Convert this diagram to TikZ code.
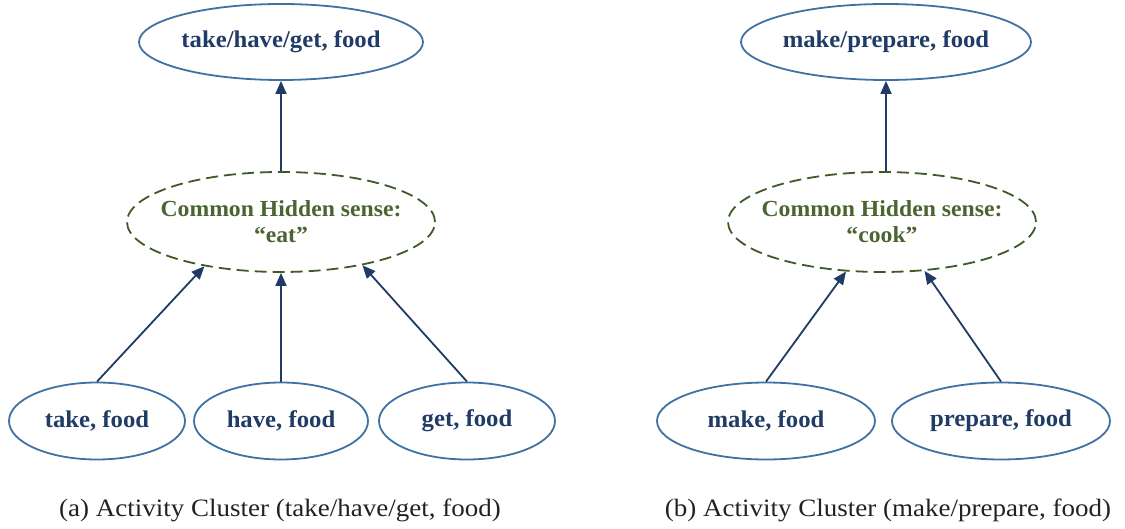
\documentclass[tikz,border=0pt]{standalone}
\usepackage{fontspec}
\setmainfont{Liberation Serif}
\newfontfamily\nodefont[FakeStretch=1.03,Ligatures=TeX]{Liberation Serif}
\newfontfamily\capfont[FakeStretch=1.08,Ligatures=TeX]{Liberation Serif}
\usetikzlibrary{shapes.geometric,arrows.meta}
\definecolor{navy}{HTML}{1F3B66}
\definecolor{ellblue}{HTML}{3F72A3}
\definecolor{dgreen}{HTML}{3E5A28}
\definecolor{tgreen}{HTML}{4A6530}
\definecolor{capgray}{HTML}{222222}
\tikzset{
  leaf/.style={ellipse,draw=ellblue,line width=1.8pt,inner xsep=-6pt,inner ysep=0pt,
    text=navy,font=\nodefont\fontsize{24}{28}\selectfont\bfseries},
  hidden/.style={ellipse,draw=dgreen,line width=1.8pt,dash pattern=on 12pt off 6pt,
    inner xsep=-20pt,inner ysep=-8pt,text=tgreen,align=center,
    font=\nodefont\fontsize{23}{26}\selectfont\bfseries},
  arr/.style={navy,line width=1.8pt,-{Triangle[length=13pt,width=11pt]}},
  captext/.style={text=capgray,font=\capfont\fontsize{25}{29}\selectfont}
}
\begin{document}
\begin{tikzpicture}[x=1pt,y=-1pt]
\useasboundingbox (0,0) rectangle (1125,529);
% (a)
\node[leaf,minimum width=284pt,minimum height=76pt] (ta) at (281,42) {take/have/get, food};
\node[hidden,minimum width=308pt,minimum height=100pt] (ha) at (281,222) {Common Hidden sense:\\“eat”};
\node[leaf,minimum width=176pt,minimum height=77pt] (take) at (97,421) {take, food};
\node[leaf,minimum width=174pt,minimum height=77pt] (have) at (281,421) {have, food};
\node[leaf,minimum width=176pt,minimum height=77pt] (get) at (467,421) {get, food};
\draw[arr] (ha.north) -- (ta.south);
\draw[arr] (take.north) -- (ha.-150);
\draw[arr] (have.north) -- (ha.south);
\draw[arr] (get.north) -- (ha.-28);
\node[captext] (capa) at (280,510) {(a) Activity Cluster (take/have/get, food)};
% (b)
\node[leaf,minimum width=290pt,minimum height=76pt] (tb) at (886,42) {make/prepare, food};
\node[hidden,minimum width=308pt,minimum height=100pt] (hb) at (882,222) {Common Hidden sense:\\“cook”};
\node[leaf,minimum width=218pt,minimum height=77pt] (make) at (766,421) {make, food};
\node[leaf,minimum width=218pt,minimum height=77pt] (prep) at (1001,421) {prepare, food};
\draw[arr] (hb.north -| tb.south) -- (tb.south);
\draw[arr] (make.north) -- (hb.-126);
\draw[arr] (prep.north) -- (hb.-49);
\node[captext] (capb) at (888,510) {(b) Activity Cluster (make/prepare, food)};
\end{tikzpicture}
\end{document}
